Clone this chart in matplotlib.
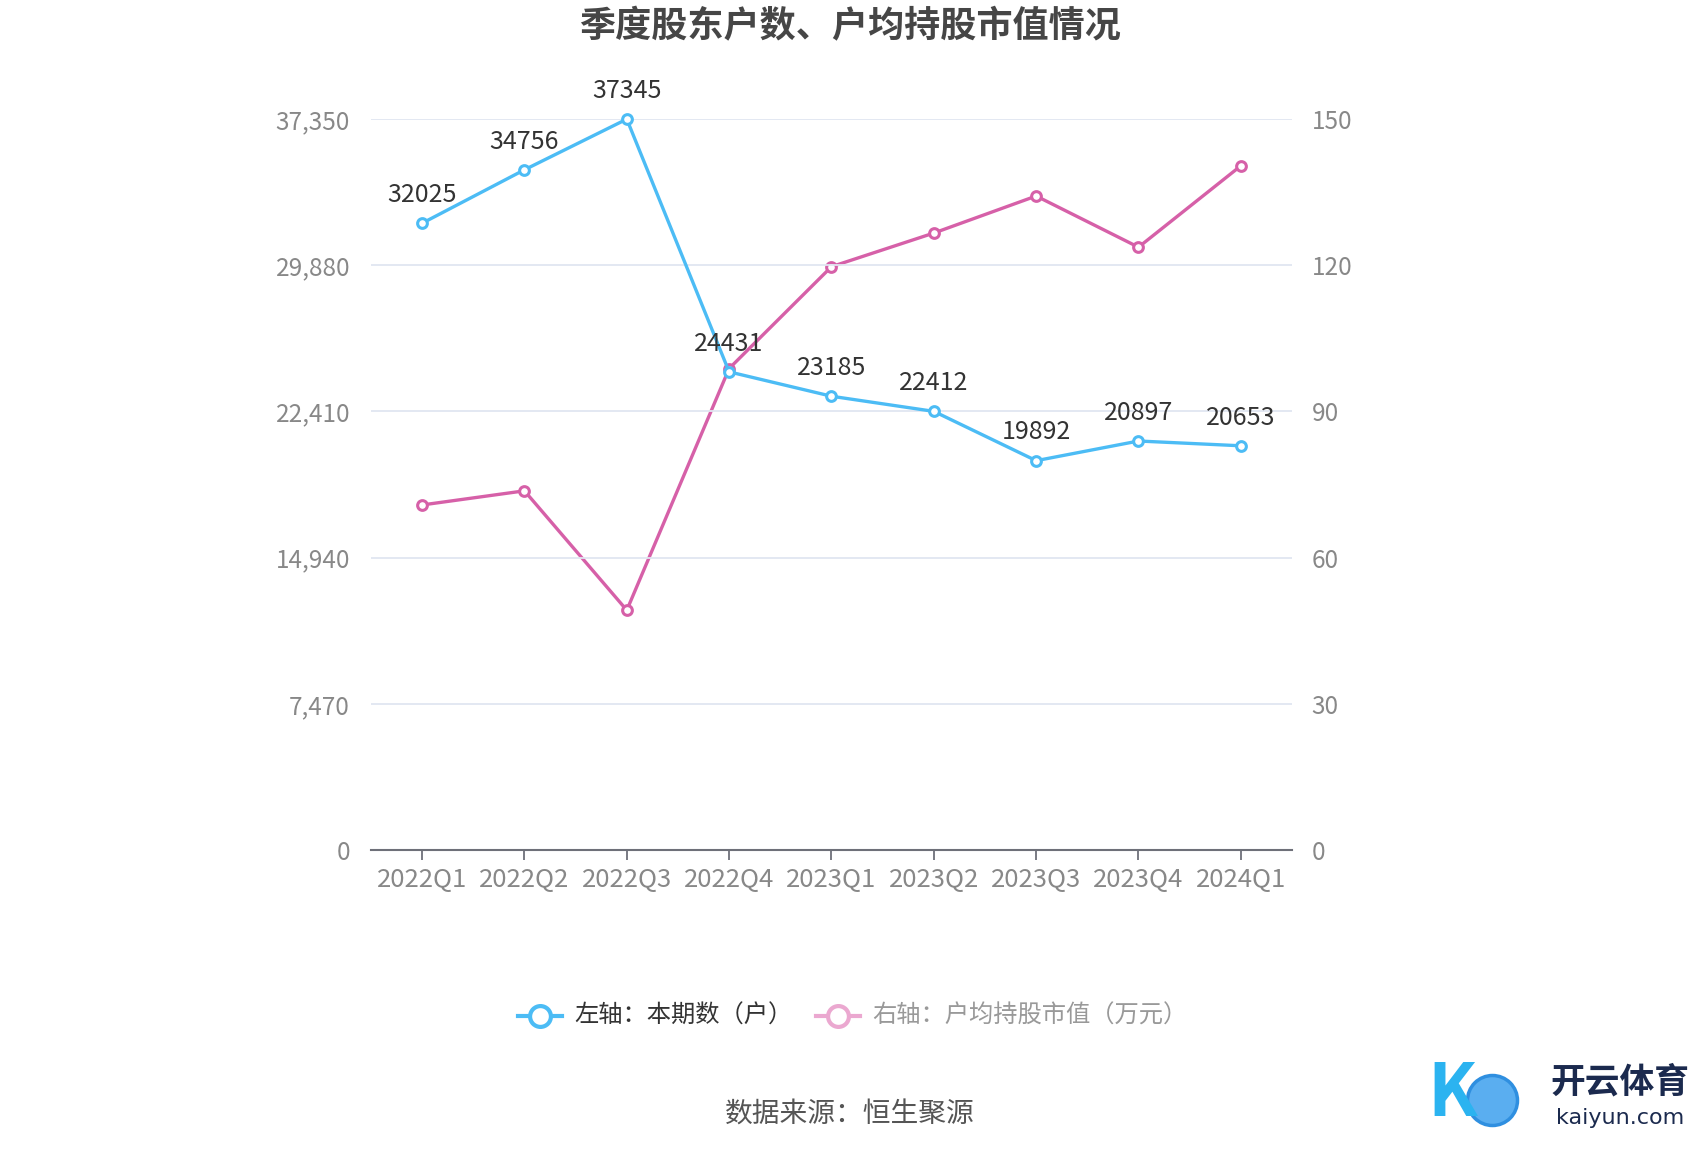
import numpy as np
import matplotlib.pyplot as plt

plt.rcParams['font.family'] = ['Noto Sans CJK SC', 'DejaVu Sans']

# data
quarters = ['2022Q1', '2022Q2', '2022Q3', '2022Q4', '2023Q1', '2023Q2', '2023Q3', '2023Q4', '2024Q1']
holders = [32025, 34756, 37345, 24431, 23185, 22412, 19892, 20897, 20653]
avg_value = [70.8, 73.7, 49.2, 98.8, 119.7, 126.6, 134.2, 123.7, 140.4]
left_ticks = [0, 7470, 14940, 22410, 29880, 37350]
right_ticks = [0, 30, 60, 90, 120, 150]

blue = '#4CBCF5'
pink = '#D660A8'

fig = plt.figure(figsize=(17, 11.5), dpi=100)
ax = fig.add_axes([0.2182, 0.2609, 0.5418, 0.6356])
ax2 = ax.twinx()

x = np.arange(len(quarters))

ax2.plot(x, avg_value, color=pink, lw=2.4, marker='o', ms=7, mfc='white',
         mec=pink, mew=2.2, zorder=3, clip_on=False)
ax.plot(x, holders, color=blue, lw=2.4, marker='o', ms=7, mfc='white',
        mec=blue, mew=2.2, zorder=5, clip_on=False)
ax.set_zorder(ax2.get_zorder() + 1)
ax.patch.set_visible(False)

for xi, v in zip(x, holders):
    ax.annotate(str(v), (xi, v), xytext=(0, 11), textcoords='offset points',
                ha='center', va='bottom', fontsize=18, color='#333333', zorder=6)

ax.set_xlim(-0.5, len(quarters) - 0.5)
ax.set_ylim(0, 37350)
ax2.set_ylim(0, 150)
ax.set_yticks(left_ticks)
ax.set_yticklabels([f'{t:,}' for t in left_ticks])
ax2.set_yticks(right_ticks)
ax2.set_yticklabels([str(t) for t in right_ticks])
ax.set_xticks(x)
ax.set_xticklabels(quarters)

ax.grid(axis='y', color='#E0E6F1', lw=1.3)
ax.set_axisbelow(True)
for a in (ax, ax2):
    for s in ['top', 'left', 'right', 'bottom']:
        a.spines[s].set_visible(False)
ax.spines['bottom'].set_visible(True)
ax.spines['bottom'].set_color('#6E7079')
ax.spines['bottom'].set_linewidth(1.5)

ax.tick_params(axis='y', length=0, pad=15, labelsize=17.5, labelcolor='#888888')
ax2.tick_params(axis='y', length=0, pad=14, labelsize=17.5, labelcolor='#888888')
ax.tick_params(axis='x', length=7, width=1.3, color='#6E7079', pad=5,
               labelsize=18.5, labelcolor='#888888')

fig.text(0.5, 0.977, '季度股东户数、户均持股市值情况', ha='center', va='center',
         fontsize=26, fontweight='bold', color='#464646')

# legend
ly = 1 - 1016 / 1150
lx = 552 / 1700
fig.add_artist(plt.Line2D([lx - 0.02, lx + 0.006], [ly, ly], color=blue, lw=3,
                          transform=fig.transFigure))
fig.add_artist(plt.Line2D([lx - 0.007], [ly], marker='o', ms=15, mfc='white',
                          mec=blue, mew=3, transform=fig.transFigure))
fig.text(lx + 0.013, ly, '左轴：本期数（户）', ha='left', va='center',
         fontsize=17.5, color='#333333')
lx2 = 850 / 1700
fig.add_artist(plt.Line2D([lx2 - 0.02, lx2 + 0.006], [ly, ly], color='#EBA8D0', lw=3,
                          transform=fig.transFigure))
fig.add_artist(plt.Line2D([lx2 - 0.007], [ly], marker='o', ms=15, mfc='white',
                          mec='#EBA8D0', mew=3, transform=fig.transFigure))
fig.text(lx2 + 0.013, ly, '右轴：户均持股市值（万元）', ha='left', va='center',
         fontsize=17.5, color='#999999')

fig.text(0.5, 1 - 1115 / 1150, '数据来源：恒生聚源', ha='center', va='center',
         fontsize=20, color='#555555')

# watermark logo
fig.text(1452 / 1700, 1 - 1095 / 1150, 'K', ha='center', va='center', fontsize=52,
         fontstyle='italic', fontweight='bold', color='#2BB3F0')
fig.add_artist(plt.Line2D([1492 / 1700], [1 - 1100 / 1150], marker='o', ms=36,
                          mfc='#5AAEF0', mec='#2F8FE0', mew=2.5,
                          transform=fig.transFigure))
fig.text(1620 / 1700, 1 - 1082 / 1150, '开云体育', ha='center', va='center',
         fontsize=25, fontweight='bold', color='#1B2A4E')
fig.text(1620 / 1700, 1 - 1118 / 1150, 'kaiyun.com', ha='center', va='center',
         fontsize=16, color='#1B2A4E', family='DejaVu Sans')

fig.savefig('out.png', dpi=100, facecolor='white')
